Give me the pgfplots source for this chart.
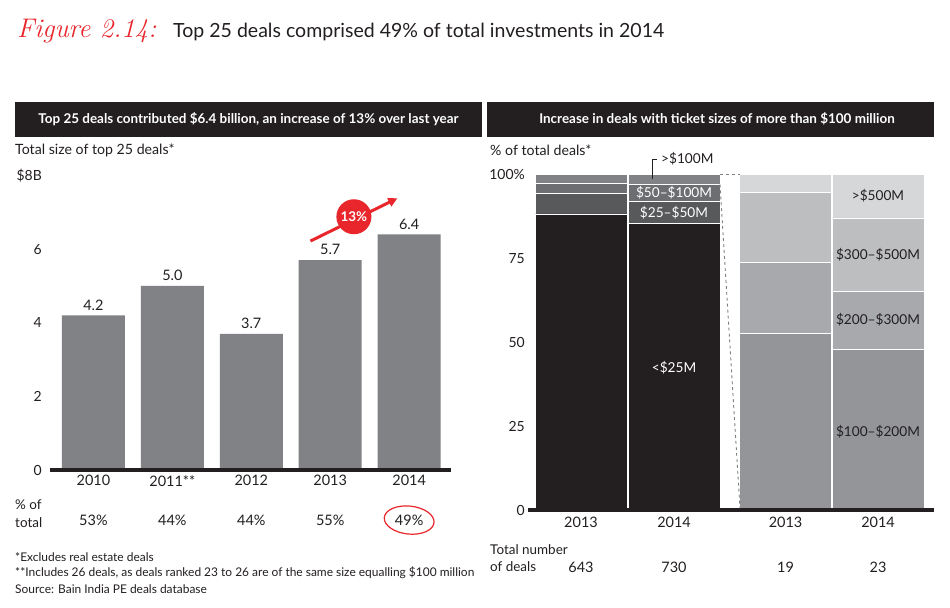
\documentclass[border=0pt]{standalone}
\usepackage{pgfplots}
\pgfplotsset{compat=1.18}
\usepackage{fontspec}
\setmainfont{Lato}
\newfontfamily\figfont{Latin Modern Roman}
\usetikzlibrary{arrows.meta}
\definecolor{ink}{HTML}{231F20}
\definecolor{bainred}{HTML}{E8262B}
\definecolor{barg}{HTML}{808285}
\definecolor{gA}{HTML}{58595B}
\definecolor{gB}{HTML}{6D6E71}
\definecolor{gC}{HTML}{808285}
\definecolor{rA}{HTML}{939598}
\definecolor{rB}{HTML}{A7A9AC}
\definecolor{rC}{HTML}{BCBEC0}
\definecolor{rD}{HTML}{D6D7D9}
\newcommand\fs[1]{\fontsize{#1}{#1}\selectfont}
\begin{document}
\begin{tikzpicture}
\path[use as bounding box, fill=white] (0,0) rectangle (950bp,-608bp);
% title
\node[anchor=base west, inner sep=0, text=bainred, font=\figfont\itshape\fs{27}] at (17bp,-37bp) {Figure 2.14:};
\node[anchor=base west, inner sep=0, text=ink, font=\fs{19.6}] at (173bp,-37bp) {Top 25 deals comprised 49\% of total investments in 2014};
% headers
\fill[ink] (15bp,-102bp) rectangle (482bp,-137bp);
\fill[ink] (487bp,-102bp) rectangle (934bp,-137bp);
\node[text=white, font=\bfseries\fs{13.5}, inner sep=0] at (248.5bp,-119bp) {Top 25 deals contributed \$6.4 billion, an increase of 13\% over last year};
\node[text=white, font=\bfseries\fs{13.5}, inner sep=0] at (717bp,-119bp) {Increase in deals with ticket sizes of more than \$100 million};
% subtitles
\node[anchor=west, inner sep=0, text=ink, font=\fs{14.2}] at (15bp,-150bp) {Total size of top 25 deals*};
\node[anchor=west, inner sep=0, text=ink, font=\fs{14.2}] at (490bp,-150bp) {\% of total deals*};
% left row labels
\node[anchor=west, inner sep=0, text=ink, font=\fs{13.5}] at (15bp,-505bp) {\% of};
\node[anchor=west, inner sep=0, text=ink, font=\fs{13.5}] at (15bp,-523bp) {total};
% footnotes
\node[anchor=west, inner sep=0, text=ink, font=\fs{12}] at (15bp,-557bp) {*Excludes real estate deals};
\node[anchor=west, inner sep=0, text=ink, font=\fs{12}] at (15bp,-573bp) {**Includes 26 deals, as deals ranked 23 to 26 are of the same size equalling \$100 million};
\node[anchor=west, inner sep=0, text=ink, font=\fs{12}] at (15bp,-589bp) {Source: Bain India PE deals database};
% right bottom labels
\node[anchor=west, inner sep=0, text=ink, font=\fs{13.5}] at (490bp,-550bp) {Total number};
\node[anchor=west, inner sep=0, text=ink, font=\fs{13.5}] at (490bp,-567bp) {of deals};

% ---------- left chart ----------
\begin{axis}[
  at={(50bp,-470bp)}, anchor=south west,
  scale only axis, width=401bp, height=294.5bp,
  xmin=-0.55, xmax=4.53, ymin=0, ymax=8,
  axis line style={draw=none}, major tick length=0pt,
  clip=false,
  /pgf/number format/assume math mode=true,
  ytick={0,2,4,6,8}, yticklabels={0,2,4,6,\$8B},
  yticklabel style={font=\fs{14}, text=ink, anchor=east, inner sep=0pt, xshift=-8bp},
  xtick={0,1,2,3,4}, xticklabels={2010,2011**,2012,2013,2014},
  xticklabel style={font=\fs{14.5}, text=ink, anchor=north, inner sep=0pt, yshift=-5bp},
  ybar, bar width=63bp,
  nodes near coords={\pgfmathprintnumber[fixed,fixed zerofill,precision=1]{\pgfplotspointmeta}},
  nodes near coords style={font=\fs{14.5}, text=ink, anchor=south, inner sep=0pt, yshift=5bp},
]
\addplot[fill=barg, draw=none] coordinates {(0,4.2) (1,5.0) (2,3.7) (3,5.7) (4,6.4)};
\draw[ink, line width=4bp] (axis cs:-0.55,0) -- (axis cs:4.53,0);
\node[font=\fs{14.5}, text=ink, inner sep=0] at (axis cs:0,-1.38) {53\%};
\node[font=\fs{14.5}, text=ink, inner sep=0] at (axis cs:1,-1.38) {44\%};
\node[font=\fs{14.5}, text=ink, inner sep=0] at (axis cs:2,-1.38) {44\%};
\node[font=\fs{14.5}, text=ink, inner sep=0] at (axis cs:3,-1.38) {55\%};
\node[font=\fs{14.5}, text=ink, inner sep=0] at (axis cs:4,-1.38) {49\%};
\draw[bainred, line width=1.2bp, rotate around={-6:(axis cs:4,-1.36)}] (axis cs:4,-1.36) ellipse [x radius=25bp, y radius=14bp];
\draw[bainred, line width=3bp, -{Triangle[length=9bp,width=9bp]}] (axis cs:2.75,6.22) -- (axis cs:3.85,7.38);
\fill[bainred] (axis cs:3.30,6.88) circle[radius=17.5bp];
\node[text=white, font=\bfseries\fs{13.5}, inner sep=0] at (axis cs:3.30,6.88) {13\%};
\end{axis}

% ---------- right chart ----------
\begin{axis}[
  at={(528bp,-510bp)}, anchor=south west,
  scale only axis, width=406bp, height=335.7bp,
  xmin=0, xmax=406, ymin=0, ymax=100,
  axis line style={draw=none}, major tick length=0pt,
  clip=false,
  ytick={0,25,50,75,100}, yticklabels={0,25,50,75,100\%},
  yticklabel style={font=\fs{14}, text=ink, anchor=east, inner sep=0pt, xshift=-3bp},
  xtick={53,146,257.5,350}, xticklabels={2013,2014,2013,2014},
  xticklabel style={font=\fs{14.5}, text=ink, anchor=north, inner sep=0pt, yshift=-7bp},
  ybar stacked, bar width=92bp,
  every axis plot/.append style={draw=white, line width=0.8bp},
]
\addplot[fill=ink] coordinates {(53,88.2) (146,85.4)};
\addplot[fill=gA] coordinates {(53,6.0) (146,6.5)};
\addplot[fill=gB] coordinates {(53,3.0) (146,5.1)};
\addplot[fill=gC] coordinates {(53,2.8) (146,3.0)};
\end{axis}
\begin{axis}[
  at={(528bp,-510bp)}, anchor=south west,
  scale only axis, width=406bp, height=335.7bp,
  xmin=0, xmax=406, ymin=0, ymax=100,
  axis line style={draw=none}, xtick=\empty, ytick=\empty,
  clip=false,
  ybar stacked, bar width=92bp,
  every axis plot/.append style={draw=white, line width=0.8bp},
]
\addplot[fill=rA] coordinates {(257.5,52.6) (350,47.8)};
\addplot[fill=rB] coordinates {(257.5,21.1) (350,17.4)};
\addplot[fill=rC] coordinates {(257.5,21.0) (350,21.8)};
\addplot[fill=rD] coordinates {(257.5,5.3) (350,13.0)};
\end{axis}
% annotation overlay
\begin{axis}[
  at={(528bp,-510bp)}, anchor=south west,
  scale only axis, width=406bp, height=335.7bp,
  xmin=0, xmax=406, ymin=0, ymax=100,
  axis line style={draw=none}, xtick=\empty, ytick=\empty,
  clip=false,
]
\draw[ink, line width=4bp] (axis cs:0,0) -- (axis cs:406,0);
\draw[gray, dashed, line width=0.9bp] (axis cs:192,100) -- (axis cs:212,100);
\draw[gray, dashed, line width=0.9bp] (axis cs:192,97) -- (axis cs:212,0.5);
\node[text=white, font=\fs{13.7}, inner sep=0] at (axis cs:146,42.3) {<\$25M};
\node[text=white, font=\fs{13.7}, inner sep=0] at (axis cs:146,94.4) {\$50–\$100M};
\node[text=white, font=\fs{13.7}, inner sep=0] at (axis cs:146,88.6) {\$25–\$50M};
\draw[ink, line width=0.8bp] (axis cs:124,98.5) |- (axis cs:129,104.5);
\node[anchor=west, text=ink, font=\fs{13.7}, inner sep=0] at (axis cs:133,104.5) {>\$100M};
\node[text=ink, font=\fs{13.7}, inner sep=0] at (axis cs:350,93.5) {>\$500M};
\node[text=ink, font=\fs{13.7}, inner sep=0] at (axis cs:350,76.0) {\$300–\$500M};
\node[text=ink, font=\fs{13.7}, inner sep=0] at (axis cs:350,56.6) {\$200–\$300M};
\node[text=ink, font=\fs{13.7}, inner sep=0] at (axis cs:350,23.2) {\$100–\$200M};
\node[font=\fs{14.5}, text=ink, inner sep=0] at (axis cs:53,-17) {643};
\node[font=\fs{14.5}, text=ink, inner sep=0] at (axis cs:146,-17) {730};
\node[font=\fs{14.5}, text=ink, inner sep=0] at (axis cs:257.5,-17) {19};
\node[font=\fs{14.5}, text=ink, inner sep=0] at (axis cs:350,-17) {23};
\end{axis}
\end{tikzpicture}
\end{document}
